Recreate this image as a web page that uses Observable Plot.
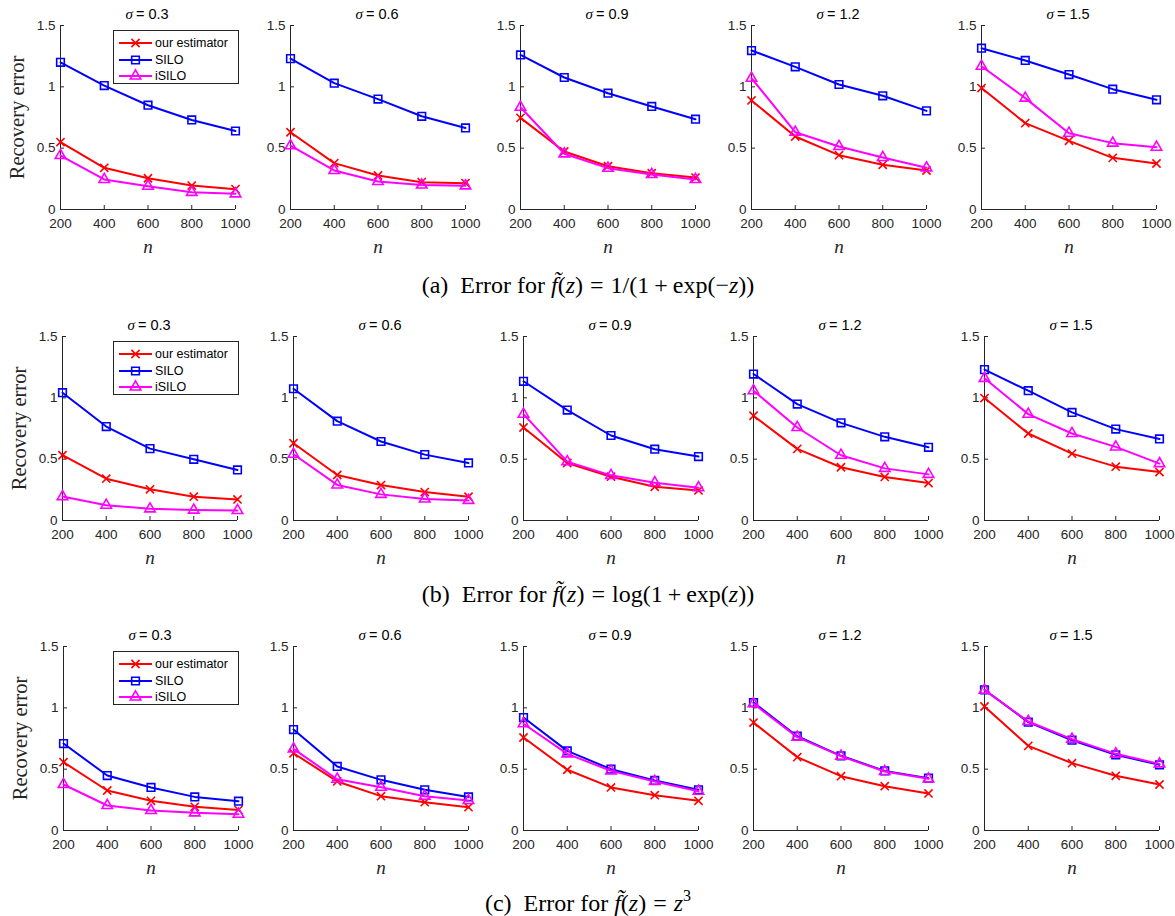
<!DOCTYPE html>
<html><head><meta charset="utf-8">
<script src="https://cdn.jsdelivr.net/npm/d3@7"></script>
<script src="https://cdn.jsdelivr.net/npm/@observablehq/plot@0.6"></script>
<style>
body{margin:0;background:#fff;}
#chart{position:relative;width:1175px;height:916px;overflow:hidden;background:#fff;}
.panel{position:absolute;}
.panel svg{max-width:none !important;}
.caption{position:absolute;font-family:"Liberation Serif","Times New Roman",serif;font-size:24px;color:#000;white-space:nowrap;line-height:1;transform:translateX(-50%);}
.caption i{font-style:italic;}
.caption .op{margin:0 7px;}
.caption .bop{margin:0 5px;}
.legend{position:absolute;border:1px solid #262626;background:#fff;font-family:"Liberation Sans",Arial,sans-serif;font-size:12.5px;color:#000;box-sizing:border-box;}
.legend .item{position:absolute;left:0;height:16px;display:flex;align-items:center;white-space:nowrap;}
</style></head><body><div id="chart"></div>
<script>
// ---------- data ----------
const nValues = [200, 400, 600, 800, 1000];
const sigmas = ["0.3", "0.6", "0.9", "1.2", "1.5"];
const yTicks = [0, 0.5, 1, 1.5];
const methods = ["our estimator", "SILO", "iSILO"];
const colors = ["#ff0000", "#0000ff", "#ff00ff"];
const symbols = ["times", "square", "triangle"];
const captions = [
  "(a)&nbsp; Error for <i>f&#771;</i>(<i>z</i>)<span class='op'>=</span>1/(1<span class='bop'>+</span>exp(&minus;<i>z</i>))",
  "(b)&nbsp; Error for <i>f&#771;</i>(<i>z</i>)<span class='op'>=</span>log(1<span class='bop'>+</span>exp(<i>z</i>))",
  "(c)&nbsp; Error for <i>f&#771;</i>(<i>z</i>)<span class='op'>=</span><i>z</i><sup style='font-size:16px;vertical-align:10px;line-height:0'>3</sup>"
];

// row (a): sigmoid ; rows are sigma, columns are n
const a_ours = [
  [0.55, 0.34, 0.255, 0.195, 0.166],
  [0.63, 0.378, 0.277, 0.223, 0.215],
  [0.747, 0.473, 0.353, 0.296, 0.26],
  [0.889, 0.595, 0.443, 0.364, 0.318],
  [0.99, 0.704, 0.56, 0.421, 0.375]];
const a_silo = [
  [1.20, 1.01, 0.85, 0.73, 0.64],
  [1.23, 1.03, 0.90, 0.76, 0.665],
  [1.26, 1.076, 0.948, 0.84, 0.736],
  [1.296, 1.163, 1.019, 0.927, 0.804],
  [1.315, 1.215, 1.10, 0.981, 0.894]];
const a_isilo = [
  [0.44, 0.245, 0.19, 0.14, 0.128],
  [0.52, 0.318, 0.228, 0.20, 0.193],
  [0.834, 0.454, 0.337, 0.285, 0.245],
  [1.07, 0.63, 0.514, 0.424, 0.34],
  [1.168, 0.908, 0.622, 0.541, 0.508]];

// row (b): softplus
const b_ours = [
  [0.532, 0.341, 0.254, 0.194, 0.172],
  [0.63, 0.371, 0.289, 0.232, 0.194],
  [0.758, 0.469, 0.357, 0.275, 0.245],
  [0.854, 0.584, 0.434, 0.355, 0.305],
  [0.998, 0.709, 0.545, 0.439, 0.395]];
const b_silo = [
  [1.042, 0.766, 0.586, 0.499, 0.412],
  [1.074, 0.81, 0.644, 0.537, 0.469],
  [1.135, 0.90, 0.693, 0.581, 0.521],
  [1.194, 0.949, 0.796, 0.682, 0.597],
  [1.23, 1.058, 0.881, 0.745, 0.665]];
const b_isilo = [
  [0.195, 0.125, 0.095, 0.085, 0.082],
  [0.54, 0.29, 0.213, 0.175, 0.164],
  [0.867, 0.48, 0.368, 0.308, 0.267],
  [1.058, 0.758, 0.532, 0.425, 0.376],
  [1.159, 0.867, 0.709, 0.60, 0.464]];

// row (c): cubic
const c_ours = [
  [0.557, 0.326, 0.242, 0.193, 0.168],
  [0.63, 0.40, 0.28, 0.231, 0.19],
  [0.758, 0.495, 0.351, 0.288, 0.242],
  [0.88, 0.598, 0.443, 0.361, 0.302],
  [1.011, 0.69, 0.549, 0.446, 0.375]];
const c_silo = [
  [0.709, 0.448, 0.351, 0.274, 0.239],
  [0.823, 0.522, 0.413, 0.332, 0.274],
  [0.921, 0.649, 0.50, 0.408, 0.332],
  [1.043, 0.769, 0.609, 0.486, 0.427],
  [1.147, 0.883, 0.736, 0.617, 0.535]];
const c_isilo = [
  [0.375, 0.204, 0.163, 0.144, 0.133],
  [0.666, 0.418, 0.353, 0.28, 0.245],
  [0.87, 0.625, 0.486, 0.40, 0.32],
  [1.033, 0.761, 0.606, 0.481, 0.421],
  [1.144, 0.889, 0.745, 0.625, 0.543]];

const rowsData = [[a_ours, a_silo, a_isilo], [b_ours, b_silo, b_isilo], [c_ours, c_silo, c_isilo]];

// ---------- layout ----------
const rowTop = [25, 336, 646];
const colLeft = [[60, 290, 520, 751, 981], [62, 293, 523, 753, 984], [63, 293, 523, 753, 984]];
const captionPos = [[588, 273], [588, 582], [588, 891]];
const PW = 175, PH = 184, ML = 60, MR = 18, MT = 30, MB = 45;
const dotR = [3.8, 4.3, 3.9];
const TXT = "#262626";

const chart = document.getElementById("chart");

function panel(r, c) {
  const marks = [
    Plot.ruleX([nValues[0]], {stroke: TXT, strokeWidth: 1}),
    Plot.ruleY([yTicks[0]], {stroke: TXT, strokeWidth: 1}),
    Plot.axisX(nValues, {tickSize: -4, tickPadding: 13, fontSize: 13.5, color: TXT, tickFormat: d => String(d), label: null}),
    Plot.axisY(yTicks, {tickSize: -4, tickPadding: 9, fontSize: 13.5, color: TXT, tickFormat: d => String(d), label: null})
  ];
  methods.forEach((m, mi) => {
    const vals = rowsData[r][mi][c];
    const data = nValues.map((n, i) => ({n, err: vals[i], method: m}));
    marks.push(Plot.line(data, {x: "n", y: "err", stroke: colors[mi], strokeWidth: 2}));
    marks.push(Plot.dot(data, {x: "n", y: "err", symbol: () => symbols[mi], r: dotR[mi], stroke: colors[mi], fill: "none", strokeWidth: 1.6}));
  });
  // titles
  marks.push(Plot.text(["σ"], {frameAnchor: "top", lineAnchor: "middle", dx: -15, dy: -11, textAnchor: "end", fontFamily: "'Liberation Serif', serif", fontStyle: "italic", fontWeight: "normal", fontSize: 15, fill: "#000"}));
  marks.push(Plot.text(["= " + sigmas[c]], {frameAnchor: "top", lineAnchor: "middle", dx: -12, dy: -11, textAnchor: "start", fontWeight: "normal", fontSize: 14.5, fill: "#000"}));
  marks.push(Plot.text(["n"], {frameAnchor: "bottom", lineAnchor: "middle", dy: 37, fontFamily: "'Liberation Serif', serif", fontStyle: "italic", fontSize: 19, fill: TXT}));
  if (c === 0) {
    marks.push(Plot.text(["Recovery error"], {frameAnchor: "left", lineAnchor: "middle", textAnchor: "middle", rotate: -90, dx: -43, fontFamily: "'Liberation Serif', serif", fontSize: 20.5, fill: TXT}));
  }
  const svg = Plot.plot({
    width: ML + PW + MR, height: MT + PH + MB,
    marginLeft: ML, marginRight: MR, marginTop: MT, marginBottom: MB,
    style: {background: "transparent", overflow: "visible", maxWidth: "none", fontFamily: "'Liberation Sans', Arial, sans-serif"},
    x: {domain: [nValues[0], nValues[nValues.length - 1]]},
    y: {domain: [yTicks[0], yTicks[yTicks.length - 1]]},
    marks
  });
  const wrap = document.createElement("div");
  wrap.className = "panel";
  wrap.style.left = (colLeft[r][c] - ML) + "px";
  wrap.style.top = (rowTop[r] - MT) + "px";
  wrap.appendChild(svg);
  chart.appendChild(wrap);
}

function legend(r) {
  const box = document.createElement("div");
  box.className = "legend";
  box.style.left = "113px";
  box.style.top = (rowTop[r] + 5) + "px";
  box.style.width = "126px";
  box.style.height = "54px";
  const symTypes = {times: d3.symbolTimes, square: d3.symbolSquare, triangle: d3.symbolTriangle};
  methods.forEach((m, mi) => {
    const item = document.createElement("div");
    item.className = "item";
    item.style.top = (4 + mi * 16.5) + "px";
    const s = d3.create("svg").attr("width", 40).attr("height", 16).style("display", "block");
    s.append("line").attr("x1", 5).attr("x2", 38).attr("y1", 8).attr("y2", 8).attr("stroke", colors[mi]).attr("stroke-width", 2);
    s.append("path").attr("transform", "translate(21.5,8)")
      .attr("d", d3.symbol(symTypes[symbols[mi]], Math.PI * dotR[mi] * dotR[mi])())
      .attr("fill", "none").attr("stroke", colors[mi]).attr("stroke-width", 1.6);
    item.appendChild(s.node());
    const t = document.createElement("span");
    t.style.marginLeft = "1px";
    t.textContent = m;
    item.appendChild(t);
    box.appendChild(item);
  });
  chart.appendChild(box);
}

for (let r = 0; r < 3; r++) {
  for (let c = 0; c < 5; c++) panel(r, c);
  legend(r);
  const cap = document.createElement("div");
  cap.className = "caption";
  cap.style.left = captionPos[r][0] + "px";
  cap.style.top = captionPos[r][1] + "px";
  cap.innerHTML = captions[r];
  chart.appendChild(cap);
}
</script></body></html>
